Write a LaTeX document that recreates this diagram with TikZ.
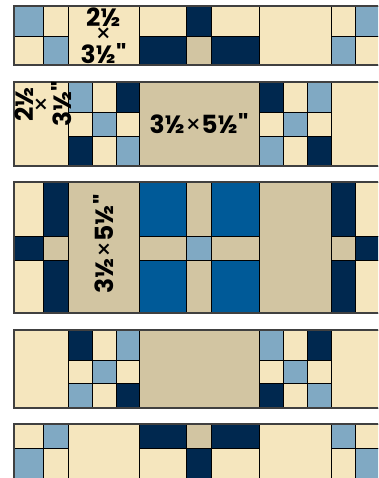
\documentclass[tikz,border=0pt]{standalone}
\usepackage{fontspec}
\newfontfamily\labfont{Poppins}
\definecolor{bg}{HTML}{F5E6BE}
\definecolor{lb}{HTML}{80A9C3}
\definecolor{nv}{HTML}{00284F}
\definecolor{tn}{HTML}{D2C5A2}
\definecolor{mb}{HTML}{005A98}
\newcommand\qc[5]{\path[fill=#5,draw=black,line width=0.9pt] (#1,#2) rectangle (#3,#4);}
\newcommand\tms{{\mdseries ×}}
\tikzset{
  lab/.style={font=\labfont\bfseries\fontsize{25}{16.5}\selectfont, align=center, inner sep=0pt, text=black},
  outer/.style={draw=black!75, line width=1.6pt}
}
\begin{document}
\begin{tikzpicture}[x=1pt,y=-1pt]
\useasboundingbox (0,0) rectangle (378,478);
\begin{scope}
\clip (0,0) rectangle (378,478);
% Row 1
\qc{14}{6}{43}{36}{lb}\qc{14}{36}{43}{65}{bg}
\qc{43}{6}{68}{36}{bg}\qc{43}{36}{68}{65}{lb}
\qc{68}{6}{139}{65}{bg}
\qc{139}{6}{186}{36}{bg}\qc{139}{36}{186}{65}{nv}
\qc{186}{6}{211}{36}{nv}\qc{186}{36}{211}{65}{tn}
\qc{211}{6}{259}{36}{bg}\qc{211}{36}{259}{65}{nv}
\qc{259}{6}{331}{65}{bg}
\qc{331}{6}{355}{36}{bg}\qc{331}{36}{355}{65}{lb}
\qc{355}{6}{386}{36}{lb}\qc{355}{36}{386}{65}{bg}
\draw[outer] (14,6) rectangle (386,65);
% Row 2
\qc{14}{82}{68}{166}{bg}
\qc{68}{82}{92}{112}{lb}\qc{92}{82}{116}{112}{bg}\qc{116}{82}{139}{112}{nv}
\qc{68}{112}{92}{136}{bg}\qc{92}{112}{116}{136}{lb}\qc{116}{112}{139}{136}{bg}
\qc{68}{136}{92}{166}{nv}\qc{92}{136}{116}{166}{bg}\qc{116}{136}{139}{166}{lb}
\qc{139}{82}{259}{166}{tn}
\qc{259}{82}{283}{112}{nv}\qc{283}{82}{307}{112}{bg}\qc{307}{82}{331}{112}{lb}
\qc{259}{112}{283}{136}{bg}\qc{283}{112}{307}{136}{lb}\qc{307}{112}{331}{136}{bg}
\qc{259}{136}{283}{166}{lb}\qc{283}{136}{307}{166}{bg}\qc{307}{136}{331}{166}{nv}
\qc{331}{82}{386}{166}{bg}
\draw[outer] (14,82) rectangle (386,166);
% Row 3
\qc{14}{182}{43}{236}{bg}\qc{14}{236}{43}{260}{nv}\qc{14}{260}{43}{313}{bg}
\qc{43}{182}{68}{236}{nv}\qc{43}{236}{68}{260}{tn}\qc{43}{260}{68}{313}{nv}
\qc{68}{182}{139}{313}{tn}
\qc{139}{182}{186}{236}{mb}\qc{139}{236}{186}{260}{tn}\qc{139}{260}{186}{313}{mb}
\qc{186}{182}{211}{236}{tn}\qc{186}{236}{211}{260}{lb}\qc{186}{260}{211}{313}{tn}
\qc{211}{182}{259}{236}{mb}\qc{211}{236}{259}{260}{tn}\qc{211}{260}{259}{313}{mb}
\qc{259}{182}{331}{313}{tn}
\qc{331}{182}{355}{236}{nv}\qc{331}{236}{355}{260}{tn}\qc{331}{260}{355}{313}{nv}
\qc{355}{182}{386}{236}{bg}\qc{355}{236}{386}{260}{nv}\qc{355}{260}{386}{313}{bg}
\draw[outer] (14,182) rectangle (386,313);
% Row 4
\qc{14}{330}{68}{408}{bg}
\qc{68}{330}{92}{360}{nv}\qc{92}{330}{116}{360}{bg}\qc{116}{330}{139}{360}{lb}
\qc{68}{360}{92}{383}{bg}\qc{92}{360}{116}{383}{lb}\qc{116}{360}{139}{383}{bg}
\qc{68}{383}{92}{408}{lb}\qc{92}{383}{116}{408}{bg}\qc{116}{383}{139}{408}{nv}
\qc{139}{330}{259}{408}{tn}
\qc{259}{330}{283}{360}{lb}\qc{283}{330}{307}{360}{bg}\qc{307}{330}{331}{360}{nv}
\qc{259}{360}{283}{383}{bg}\qc{283}{360}{307}{383}{lb}\qc{307}{360}{331}{383}{bg}
\qc{259}{383}{283}{408}{nv}\qc{283}{383}{307}{408}{bg}\qc{307}{383}{331}{408}{lb}
\qc{331}{330}{386}{408}{bg}
\draw[outer] (14,330) rectangle (386,408);
% Row 5
\qc{14}{424}{43}{448}{bg}\qc{14}{448}{43}{486}{lb}
\qc{43}{424}{68}{448}{lb}\qc{43}{448}{68}{486}{bg}
\qc{68}{424}{139}{486}{bg}
\qc{139}{424}{186}{448}{nv}\qc{139}{448}{186}{486}{bg}
\qc{186}{424}{211}{448}{tn}\qc{186}{448}{211}{486}{nv}
\qc{211}{424}{259}{448}{nv}\qc{211}{448}{259}{486}{bg}
\qc{259}{424}{331}{486}{bg}
\qc{331}{424}{355}{448}{lb}\qc{331}{448}{355}{486}{bg}
\qc{355}{424}{386}{448}{bg}\qc{355}{448}{386}{486}{lb}
\draw[outer] (14,424) rectangle (386,486);
\end{scope}
% Labels
\node[lab] (l1) at (103.5,36) {2½\\\tms\\3½"};
\node[lab, rotate=90] (l2) at (43,104) {2½\\\tms\\3½"};
\node[lab] (l3) at (199,124) {3½\tms5½"};
\node[lab, rotate=90] (l4) at (103.5,244) {3½\tms5½"};
\end{tikzpicture}
\end{document}
